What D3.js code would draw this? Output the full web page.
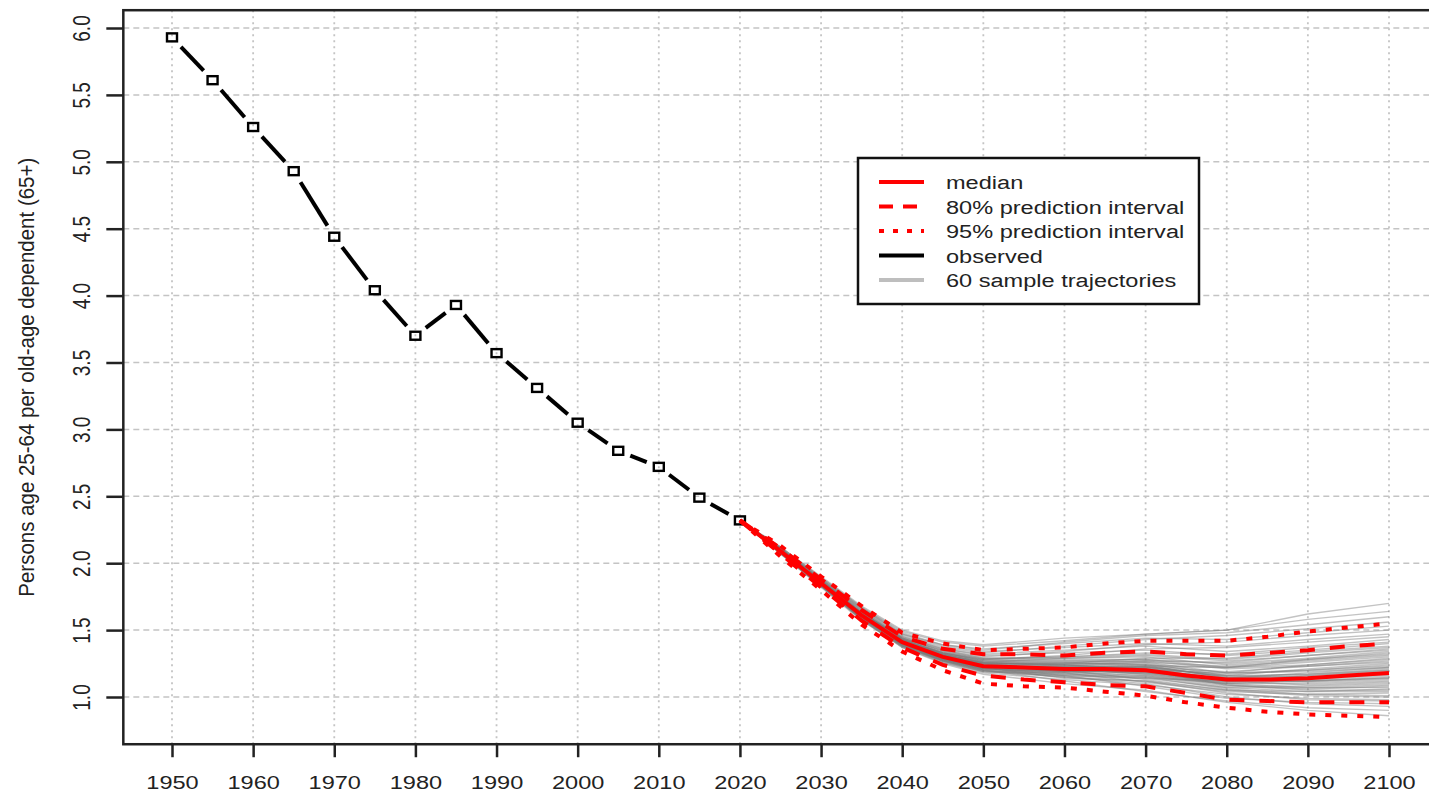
<!DOCTYPE html>
<html>
<head>
<meta charset="utf-8">
<script src="https://cdn.jsdelivr.net/npm/d3@7"></script>
<style>
  html, body { margin: 0; padding: 0; background: #fff; }
  svg { display: block; font-family: "Liberation Sans", Arial, sans-serif; }
</style>
</head>
<body>
<svg id="chart" width="1429" height="795"></svg>
<script>
// observed ratio, 5-year steps
const observedYears = [1950, 1955, 1960, 1965, 1970, 1975, 1980, 1985, 1990, 1995, 2000, 2005, 2010, 2015, 2020]
const observedValues = [5.93, 5.61, 5.26, 4.93, 4.44, 4.04, 3.70, 3.93, 3.57, 3.31, 3.05, 2.84, 2.72, 2.49, 2.32]

// projection summary lines
const projYears = [2020, 2025, 2030, 2035, 2040, 2045, 2050, 2055, 2060, 2065, 2070, 2075, 2080, 2085, 2090, 2095, 2100]
const medianValues = [2.32, 2.09, 1.85, 1.61, 1.41, 1.30, 1.23, 1.22, 1.21, 1.21, 1.20, 1.16, 1.13, 1.13, 1.14, 1.16, 1.18]
const pi80Upper = [2.32, 2.11, 1.88, 1.65, 1.45, 1.36, 1.32, 1.32, 1.31, 1.33, 1.34, 1.32, 1.31, 1.33, 1.35, 1.38, 1.40]
const pi80Lower = [2.32, 2.07, 1.82, 1.57, 1.37, 1.24, 1.16, 1.13, 1.11, 1.09, 1.08, 1.03, 0.98, 0.97, 0.96, 0.96, 0.96]
const pi95Upper = [2.32, 2.13, 1.90, 1.68, 1.48, 1.40, 1.35, 1.36, 1.37, 1.40, 1.42, 1.42, 1.42, 1.45, 1.49, 1.52, 1.55]
const pi95Lower = [2.32, 2.05, 1.80, 1.54, 1.34, 1.20, 1.10, 1.08, 1.07, 1.04, 1.01, 0.96, 0.92, 0.89, 0.87, 0.86, 0.85]

// 60 sample trajectories (they all start from the last observed value)
const trajYears = [2025, 2030, 2035, 2040, 2045, 2050, 2060, 2070, 2080, 2090, 2100]
const trajectories = [
  [2.08, 1.83, 1.58, 1.37, 1.25, 1.17, 1.10, 1.05, 0.96, 0.90, 0.86],
  [2.10, 1.86, 1.61, 1.40, 1.28, 1.20, 1.12, 1.04, 0.97, 0.92, 0.90],
  [2.07, 1.82, 1.57, 1.38, 1.27, 1.19, 1.15, 1.10, 1.00, 0.95, 0.93],
  [2.09, 1.84, 1.60, 1.40, 1.29, 1.22, 1.16, 1.08, 0.99, 0.96, 0.95],
  [2.11, 1.87, 1.63, 1.42, 1.30, 1.22, 1.14, 1.12, 1.03, 0.98, 0.97],
  [2.08, 1.84, 1.59, 1.38, 1.26, 1.18, 1.13, 1.09, 1.02, 0.99, 0.98],
  [2.09, 1.86, 1.62, 1.43, 1.32, 1.25, 1.20, 1.13, 1.05, 1.01, 1.00],
  [2.10, 1.85, 1.60, 1.39, 1.27, 1.20, 1.17, 1.15, 1.06, 1.02, 1.01],
  [2.07, 1.83, 1.59, 1.40, 1.29, 1.21, 1.18, 1.11, 1.04, 1.02, 1.03],
  [2.09, 1.85, 1.61, 1.41, 1.30, 1.23, 1.19, 1.16, 1.07, 1.04, 1.04],
  [2.10, 1.86, 1.62, 1.42, 1.31, 1.24, 1.22, 1.18, 1.09, 1.05, 1.05],
  [2.08, 1.84, 1.60, 1.39, 1.28, 1.20, 1.15, 1.12, 1.05, 1.04, 1.06],
  [2.09, 1.84, 1.59, 1.40, 1.28, 1.21, 1.20, 1.19, 1.10, 1.07, 1.07],
  [2.11, 1.87, 1.63, 1.43, 1.32, 1.26, 1.24, 1.20, 1.09, 1.06, 1.08],
  [2.08, 1.83, 1.58, 1.38, 1.27, 1.19, 1.16, 1.14, 1.07, 1.07, 1.09],
  [2.10, 1.86, 1.62, 1.41, 1.30, 1.23, 1.21, 1.17, 1.08, 1.08, 1.10],
  [2.09, 1.85, 1.61, 1.42, 1.31, 1.24, 1.19, 1.21, 1.12, 1.09, 1.11],
  [2.07, 1.83, 1.58, 1.37, 1.26, 1.19, 1.18, 1.16, 1.10, 1.10, 1.12],
  [2.10, 1.85, 1.61, 1.40, 1.29, 1.22, 1.23, 1.22, 1.13, 1.11, 1.13],
  [2.09, 1.84, 1.60, 1.41, 1.30, 1.24, 1.20, 1.18, 1.11, 1.12, 1.14],
  [2.08, 1.86, 1.63, 1.43, 1.33, 1.27, 1.26, 1.24, 1.14, 1.12, 1.14],
  [2.10, 1.85, 1.60, 1.39, 1.27, 1.21, 1.17, 1.15, 1.10, 1.12, 1.15],
  [2.09, 1.84, 1.59, 1.40, 1.29, 1.22, 1.22, 1.21, 1.13, 1.13, 1.16],
  [2.11, 1.87, 1.62, 1.41, 1.30, 1.23, 1.19, 1.19, 1.12, 1.14, 1.17],
  [2.08, 1.84, 1.60, 1.40, 1.29, 1.23, 1.24, 1.23, 1.15, 1.14, 1.17],
  [2.09, 1.85, 1.61, 1.41, 1.30, 1.24, 1.21, 1.17, 1.11, 1.14, 1.18],
  [2.10, 1.86, 1.62, 1.42, 1.31, 1.25, 1.25, 1.25, 1.16, 1.15, 1.18],
  [2.09, 1.84, 1.60, 1.39, 1.28, 1.21, 1.19, 1.20, 1.14, 1.16, 1.19],
  [2.08, 1.83, 1.59, 1.38, 1.27, 1.20, 1.16, 1.14, 1.12, 1.16, 1.20],
  [2.10, 1.86, 1.62, 1.42, 1.32, 1.26, 1.23, 1.22, 1.16, 1.17, 1.20],
  [2.09, 1.85, 1.61, 1.41, 1.30, 1.23, 1.20, 1.23, 1.15, 1.17, 1.21],
  [2.11, 1.87, 1.63, 1.43, 1.33, 1.27, 1.27, 1.26, 1.18, 1.19, 1.22],
  [2.08, 1.84, 1.60, 1.40, 1.28, 1.22, 1.18, 1.18, 1.14, 1.18, 1.22],
  [2.09, 1.85, 1.61, 1.41, 1.31, 1.25, 1.24, 1.21, 1.17, 1.20, 1.23],
  [2.10, 1.85, 1.60, 1.39, 1.28, 1.22, 1.22, 1.24, 1.18, 1.20, 1.24],
  [2.09, 1.86, 1.62, 1.42, 1.31, 1.24, 1.20, 1.19, 1.16, 1.21, 1.25],
  [2.08, 1.84, 1.61, 1.41, 1.30, 1.25, 1.26, 1.27, 1.21, 1.23, 1.26],
  [2.10, 1.85, 1.60, 1.40, 1.29, 1.22, 1.21, 1.22, 1.19, 1.23, 1.27],
  [2.09, 1.86, 1.63, 1.44, 1.34, 1.28, 1.28, 1.28, 1.22, 1.24, 1.28],
  [2.08, 1.83, 1.59, 1.39, 1.28, 1.21, 1.19, 1.20, 1.18, 1.24, 1.29],
  [2.10, 1.86, 1.62, 1.42, 1.32, 1.26, 1.25, 1.24, 1.22, 1.26, 1.30],
  [2.09, 1.85, 1.61, 1.41, 1.31, 1.24, 1.23, 1.26, 1.23, 1.27, 1.31],
  [2.11, 1.87, 1.64, 1.44, 1.35, 1.29, 1.29, 1.30, 1.24, 1.28, 1.32],
  [2.09, 1.84, 1.60, 1.40, 1.29, 1.23, 1.22, 1.23, 1.22, 1.28, 1.33],
  [2.10, 1.86, 1.62, 1.43, 1.33, 1.27, 1.27, 1.28, 1.25, 1.29, 1.34],
  [2.08, 1.84, 1.61, 1.41, 1.31, 1.25, 1.24, 1.27, 1.26, 1.31, 1.35],
  [2.09, 1.85, 1.62, 1.42, 1.32, 1.26, 1.29, 1.31, 1.27, 1.31, 1.36],
  [2.10, 1.86, 1.63, 1.44, 1.34, 1.29, 1.30, 1.32, 1.28, 1.33, 1.37],
  [2.09, 1.85, 1.61, 1.41, 1.30, 1.24, 1.25, 1.29, 1.29, 1.34, 1.38],
  [2.11, 1.88, 1.65, 1.45, 1.36, 1.31, 1.33, 1.35, 1.31, 1.35, 1.40],
  [2.09, 1.85, 1.62, 1.43, 1.33, 1.28, 1.30, 1.33, 1.32, 1.37, 1.41],
  [2.10, 1.87, 1.64, 1.45, 1.36, 1.32, 1.35, 1.38, 1.34, 1.38, 1.43],
  [2.08, 1.84, 1.61, 1.42, 1.33, 1.28, 1.31, 1.36, 1.37, 1.41, 1.45],
  [2.11, 1.88, 1.66, 1.47, 1.38, 1.34, 1.37, 1.40, 1.38, 1.43, 1.47],
  [2.10, 1.86, 1.63, 1.44, 1.35, 1.30, 1.34, 1.39, 1.41, 1.46, 1.50],
  [2.12, 1.89, 1.67, 1.48, 1.39, 1.36, 1.40, 1.44, 1.43, 1.48, 1.53],
  [2.10, 1.87, 1.65, 1.46, 1.37, 1.33, 1.38, 1.43, 1.46, 1.51, 1.56],
  [2.11, 1.88, 1.66, 1.47, 1.39, 1.35, 1.41, 1.46, 1.48, 1.54, 1.60],
  [2.12, 1.89, 1.67, 1.49, 1.41, 1.38, 1.42, 1.47, 1.50, 1.58, 1.64],
  [2.12, 1.90, 1.68, 1.50, 1.42, 1.39, 1.44, 1.47, 1.50, 1.62, 1.70],
]

const xTicks = [1950, 1960, 1970, 1980, 1990, 2000, 2010, 2020, 2030, 2040, 2050, 2060, 2070, 2080, 2090, 2100]
const yTicks = [1.0, 1.5, 2.0, 2.5, 3.0, 3.5, 4.0, 4.5, 5.0, 5.5, 6.0]
const xLimits = [1944, 2106]
const yLimits = [0.647, 6.133]
const yLabel = "Persons age 25-64 per old-age dependent (65+)"
const legendLabels = ["median", "80% prediction interval", "95% prediction interval", "observed", "60 sample trajectories"]

// the reference bitmap is stretched sideways, so text gets the same stretch
const SX = 1.24
const FONT = 19
const INK = "#222"

const svg = d3.select("#chart")
const x = d3.scaleLinear().domain([1950, 2100]).range([172, 1389])
const y = d3.scaleLinear().domain([1, 6]).range([697, 28])

const plotLeft = x(xLimits[0])
const plotRight = x(xLimits[1])
const plotTop = y(yLimits[1])
const plotBottom = y(yLimits[0])

// grid
const grid = svg.append("g")
grid.selectAll("line.h").data(yTicks).join("line")
  .attr("x1", plotLeft).attr("x2", plotRight)
  .attr("y1", (d) => y(d)).attr("y2", (d) => y(d))
  .attr("stroke", "#c4c4c4").attr("stroke-width", 1.5).attr("stroke-dasharray", "6,4")
grid.selectAll("line.v").data(xTicks).join("line")
  .attr("x1", (d) => x(d)).attr("x2", (d) => x(d))
  .attr("y1", plotTop).attr("y2", plotBottom)
  .attr("stroke", "#c4c4c4").attr("stroke-width", 1.8).attr("stroke-dasharray", "2,4")

// trajectories
const line = d3.line().x((d) => x(d[0])).y((d) => y(d[1]))
const start = [observedYears[observedYears.length - 1], observedValues[observedValues.length - 1]]
svg.append("g").selectAll("path").data(trajectories).join("path")
  .attr("d", (row) => line([start, ...row.map((v, i) => [trajYears[i], v])]))
  .attr("fill", "none").attr("stroke", "#7a7a7a").attr("stroke-opacity", 0.45).attr("stroke-width", 1.4)

// observed, drawn like R type="b": segments stop short of the points
const obs = observedYears.map((yr, i) => [x(yr), y(observedValues[i])])
const gap = 13
const segs = d3.pairs(obs).map(([a, b]) => {
  const dx = b[0] - a[0], dy = b[1] - a[1]
  const len = Math.hypot(dx, dy)
  const ux = dx / len, uy = dy / len
  return [a[0] + ux * gap, a[1] + uy * gap, b[0] - ux * gap, b[1] - uy * gap]
})
svg.append("g").selectAll("line").data(segs).join("line")
  .attr("x1", (d) => d[0]).attr("y1", (d) => d[1]).attr("x2", (d) => d[2]).attr("y2", (d) => d[3])
  .attr("stroke", "#000").attr("stroke-width", 4)
svg.append("g").selectAll("rect").data(obs).join("rect")
  .attr("x", (d) => d[0] - 5).attr("y", (d) => d[1] - 4)
  .attr("width", 10).attr("height", 8)
  .attr("fill", "none").attr("stroke", "#000").attr("stroke-width", 2.4)

// projection summary lines
const series = [
  {vals: pi95Upper, dash: "6,10"},
  {vals: pi95Lower, dash: "6,10"},
  {vals: pi80Upper, dash: "15,15"},
  {vals: pi80Lower, dash: "15,15"},
  {vals: medianValues, dash: null},
]
svg.append("g").selectAll("path").data(series).join("path")
  .attr("d", (s) => line(s.vals.map((v, i) => [projYears[i], v])))
  .attr("fill", "none").attr("stroke", "#ff0000").attr("stroke-width", 4)
  .attr("stroke-dasharray", (s) => s.dash)

// frame
svg.append("rect")
  .attr("x", plotLeft).attr("y", plotTop).attr("width", plotRight - plotLeft).attr("height", plotBottom - plotTop)
  .attr("fill", "none").attr("stroke", INK).attr("stroke-width", 2.5)

// axes
const gx = svg.append("g").attr("transform", `translate(0,${plotBottom})`)
  .call(d3.axisBottom(x).tickValues(xTicks).tickSize(13).tickFormat(d3.format("d")))
gx.select(".domain").remove()
gx.selectAll(".tick line").attr("stroke", INK).attr("stroke-width", 2.5)
gx.selectAll(".tick text")
  .attr("y", null).attr("dy", null)
  .attr("transform", `translate(0,45) scale(${SX},1)`)
  .attr("font-family", "Liberation Sans, Arial, sans-serif").attr("font-size", FONT)
  .attr("fill", INK)

const gy = svg.append("g").attr("transform", `translate(${plotLeft},0)`)
  .call(d3.axisLeft(y).tickValues(yTicks).tickSize(17).tickFormat(d3.format(".1f")))
gy.select(".domain").remove()
gy.selectAll(".tick line").attr("stroke", INK).attr("stroke-width", 2.5)
gy.selectAll(".tick text")
  .attr("x", null).attr("dy", null).attr("text-anchor", "middle")
  .attr("transform", `translate(${90 - plotLeft},0) scale(${SX},1) rotate(-90)`)
  .attr("font-family", "Liberation Sans, Arial, sans-serif").attr("font-size", FONT)
  .attr("fill", INK)

svg.append("text")
  .attr("transform", `translate(34,${(plotTop + plotBottom) / 2}) scale(1.1,1) rotate(-90)`)
  .attr("text-anchor", "middle").attr("font-size", 20.5).attr("fill", INK)
  .text(yLabel)

// legend
const legendStyles = [
  {color: "#ff0000", dash: null},
  {color: "#ff0000", dash: "14,10"},
  {color: "#ff0000", dash: "5,9"},
  {color: "#000000", dash: null},
  {color: "#bebebe", dash: null},
]
const lg = svg.append("g")
lg.append("rect").attr("x", 858).attr("y", 158).attr("width", 341).attr("height", 146)
  .attr("fill", "#fff").attr("stroke", "#111").attr("stroke-width", 2.5)
const rows = lg.selectAll("g.row").data(legendLabels).join("g")
  .attr("transform", (d, i) => `translate(0,${182 + i * 24.5})`)
rows.append("line").attr("x1", 879).attr("x2", 924)
  .attr("stroke", (d, i) => legendStyles[i].color)
  .attr("stroke-dasharray", (d, i) => legendStyles[i].dash)
  .attr("stroke-width", 4)
rows.append("text")
  .attr("transform", `translate(946,7) scale(${SX},1)`)
  .attr("font-size", FONT).attr("fill", INK)
  .text((d) => d)
</script>
</body>
</html>
